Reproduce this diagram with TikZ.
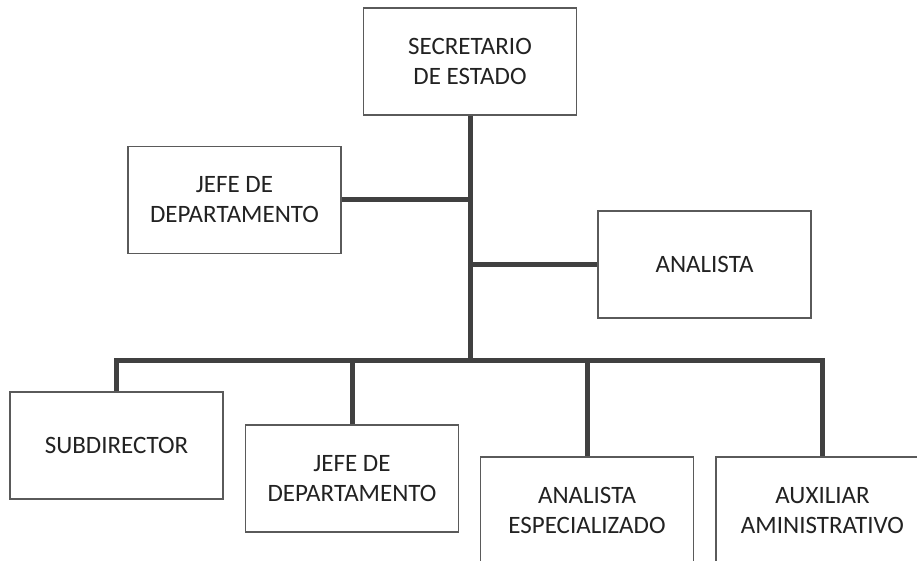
\documentclass[tikz,border=0pt]{standalone}
\usepackage{fontspec}
\setmainfont{Carlito}
\definecolor{boxline}{HTML}{5A5A5A}
\definecolor{conn}{HTML}{404040}
\definecolor{txt}{HTML}{222222}
\begin{document}
\begin{tikzpicture}[x=1pt,y=-1pt,
  orgbox/.style={draw=boxline, line width=1.6pt, fill=white, minimum width=213pt, minimum height=107pt,
    align=center, inner sep=0pt, text=txt, font=\fontsize{25}{30}\selectfont},
  link/.style={draw=conn, line width=5pt, line join=miter}]
\useasboundingbox (0,0) rectangle (917,561);
\clip (0,0) rectangle (917,561);
\fill[white] (0,0) rectangle (917,561);
\node[orgbox] (top) at (470,61.5) {SECRETARIO\\DE ESTADO};
\node[orgbox] (jefeA) at (234.5,200) {JEFE DE\\DEPARTAMENTO};
\node[orgbox] (anal) at (704.5,264.5) {ANALISTA};
\node[orgbox] (sub) at (116.5,445.5) {SUBDIRECTOR};
\node[orgbox] (jefeB) at (352,478.5) {JEFE DE\\DEPARTAMENTO};
\node[orgbox] (aesp) at (587,510.5) {ANALISTA\\ESPECIALIZADO};
\node[orgbox] (aux) at (822.5,510.5) {AUXILIAR\\AMINISTRATIVO};
\coordinate (bar) at (470,360);
\draw[link] (top.south) -- (bar);
\draw[link] (jefeA.east) -- (jefeA.east -| bar);
\draw[link] (anal.west) -- (anal.west -| bar);
\draw[link] (sub.north) -- (sub.north |- bar) -- (aux.north |- bar) -- (aux.north);
\draw[link] (jefeB.north) -- (jefeB.north |- bar);
\draw[link] (aesp.north) -- (aesp.north |- bar);
\end{tikzpicture}
\end{document}
